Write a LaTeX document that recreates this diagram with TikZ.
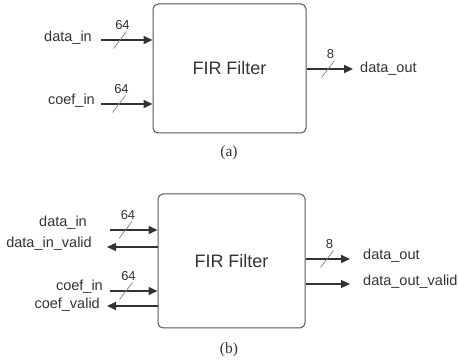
\documentclass[tikz,border=0pt]{standalone}
\usepackage{fontspec}
\setmainfont{Liberation Serif}
\setsansfont{Liberation Sans}
\usetikzlibrary{arrows.meta,positioning}
\definecolor{ink}{HTML}{333333}
\definecolor{frame}{HTML}{555555}
\tikzset{
    filter/.style={draw=frame, line width=1pt, rounded corners=5pt, text=ink,
        font=\sffamily\fontsize{18}{20}\selectfont},
    sig/.style={font=\sffamily\fontsize{14.5}{16}\selectfont, text=ink, inner sep=1pt},
    wid/.style={font=\sffamily\fontsize{13}{14}\selectfont, text=ink, inner sep=1pt},
    bus/.style={line width=1.6pt, draw=ink, -{Triangle[length=9pt,width=8pt]}},
    flag/.style={line width=1.1pt, draw=ink, -{Triangle[length=9pt,width=8pt]}},
    slash/.style={draw=gray, line width=0.7pt},
    caption/.style={font=\fontsize{15.5}{17}\selectfont, text=ink}
}

\begin{document}
\begin{tikzpicture}[x=10pt,y=10pt]
    \useasboundingbox (0,0) rectangle (45.8,36.1);

    %Blocks
    \node[filter, minimum width=153pt, minimum height=129pt] (firA) at (22.95,29.25) {FIR Filter};
    \node[filter, minimum width=147pt, minimum height=134pt] (firB) at (23.15,10) {FIR Filter};
    \node[caption] (capA) at (22.9,20.8) {(a)};
    \node[caption] (capB) at (22.9,1.1) {(b)};

    %Ports (a)
    \coordinate (dinA) at (10.1,32.1);
    \coordinate (cinA) at (10.1,25.7);
    \coordinate (doutA) at (35.3,29.2);
    \draw[bus] (dinA) -- (dinA -| firA.west);
    \draw[bus] (cinA) -- (cinA -| firA.west);
    \draw[bus] (doutA -| firA.east) -- (doutA);
    \node[sig, left=8pt of dinA, yshift=2pt] (dinAl) {data\_in};
    \node[sig, left=5pt of cinA, yshift=3pt] (cinAl) {coef\_in};
    \node[sig, right=6pt of doutA] (doutAl) {data\_out};

    %Ports (b)
    \coordinate (dinB) at (11.0,13.1);
    \coordinate (dvB) at (10.7,11.4);
    \coordinate (cinB) at (11.0,7.0);
    \coordinate (cvB) at (10.7,5.5);
    \coordinate (doutB) at (35.0,10.2);
    \coordinate (dovB) at (35.0,7.7);
    \draw[bus] (dinB) -- (dinB -| firB.west);
    \draw[flag] (dvB -| firB.west) -- (dvB);
    \draw[bus] (cinB) -- (cinB -| firB.west);
    \draw[flag] (cvB -| firB.west) -- (cvB);
    \draw[bus] (doutB -| firB.east) -- (doutB);
    \draw[flag] (dovB -| firB.east) -- (dovB);
    \node[sig, left=22pt of dinB, yshift=7pt] (dinBl) {data\_in};
    \node[sig, left=14pt of dvB, yshift=3pt] (dvBl) {data\_in\_valid};
    \node[sig, left=6pt of cinB, yshift=4pt] (cinBl) {coef\_in};
    \node[sig, left=6pt of cvB, yshift=1pt] (cvBl) {coef\_valid};
    \node[sig, right=12pt of doutB, yshift=3pt] (doutBl) {data\_out};
    \node[sig, right=12pt of dovB, yshift=2pt] (dovBl) {data\_out\_valid};

    %Bus widths
    \foreach \x/\y/\w [count=\i] in {12.0/32.1/64, 11.9/25.7/64, 32.8/29.2/8,
                                     12.55/13.1/64, 12.6/7.0/64, 32.7/10.2/8} {
        \draw[slash] (\x-0.65,\y-0.85) -- (\x+0.65,\y+0.85)
            node[wid, above=1pt, xshift=-4pt] (wid\i) {\w};
    }
\end{tikzpicture}
\end{document}
